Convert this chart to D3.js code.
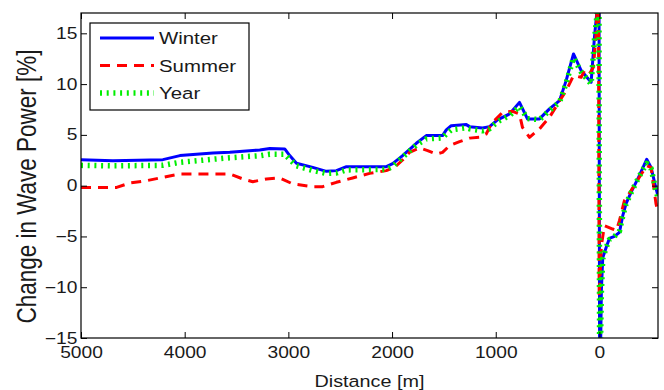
<!DOCTYPE html>
<html>
<head>
<meta charset="utf-8">
<script src="https://cdn.jsdelivr.net/npm/d3@7"></script>
<style>
  html, body { margin: 0; padding: 0; background: #fff; }
  svg { display: block; font-family: "Liberation Sans", Arial, sans-serif; }
</style>
</head>
<body>
<div id="chart"></div>
<script>
// Data: [distance (m), change in wave power (%)]
const winter = [
  [5000, 2.56], [4692, 2.46], [4210, 2.56], [4046, 2.96], [3728, 3.22], [3565, 3.28],
  [3276, 3.52], [3179, 3.65], [3035, 3.62], [2987, 2.96], [2922, 2.2], [2765, 1.8],
  [2633, 1.41], [2537, 1.48], [2440, 1.87], [2055, 1.87], [1994, 2.17], [1898, 2.96],
  [1766, 4.17], [1670, 4.93], [1513, 4.93], [1477, 5.49], [1429, 5.91], [1284, 6.01],
  [1252, 5.81], [1127, 5.68], [1060, 5.81], [983, 6.47], [867, 7.06], [771, 8.2],
  [694, 6.57], [578, 6.57], [482, 7.56], [385, 8.37], [321, 10.34], [250, 12.97],
  [176, 11.33], [80, 10.18], [48, 14.6], [16, 18], [5, 26], [-3, -26], [-10, -17],
  [-19, -10.3], [-32, -7.1], [-65, -6.08], [-96, -5.2], [-145, -5.0], [-193, -4.6],
  [-225, -2.96], [-257, -1.77], [-305, -0.66], [-385, 0.99], [-456, 2.6], [-498, 1.8],
  [-546, -0.3], [-565, -1.0]
];

const summer = [
  [5000, -0.17], [4656, -0.17], [4528, 0.27], [4367, 0.49], [4210, 0.82], [4046, 1.15],
  [3565, 1.15], [3439, 0.66], [3343, 0.39], [3211, 0.66], [3083, 0.76], [2958, 0.17],
  [2765, -0.1], [2669, -0.1], [2537, 0.33], [2380, 0.76], [2216, 1.21], [2055, 1.48],
  [1975, 1.8], [1898, 2.53], [1831, 3.28], [1734, 3.71], [1657, 3.45], [1573, 3.12],
  [1513, 3.28], [1445, 3.94], [1349, 4.33], [1252, 4.68], [1156, 4.76], [1092, 5.09],
  [1043, 6.08], [934, 7.22], [838, 7.32], [771, 7.06], [742, 5.74], [674, 4.76],
  [578, 5.59], [482, 6.73], [402, 8.05], [321, 9.36], [250, 10.84], [176, 10.67],
  [135, 11.5], [87, 11.16], [58, 11.65], [29, 15.3], [10, 24], [2, -11], [-8, -8.4],
  [-19, -5.9], [-48, -3.94], [-128, -4.27], [-164, -4.4], [-193, -3.45], [-241, -1.48],
  [-305, -0.49], [-385, 0.82], [-456, 1.97], [-498, 1.8], [-546, -1.8], [-565, -2.6]
];

const year = [
  [5000, 2.0], [4692, 1.95], [4210, 2.0], [4046, 2.3], [3728, 2.6], [3565, 2.75],
  [3276, 2.95], [3179, 3.1], [3035, 3.1], [2987, 2.6], [2922, 1.95], [2765, 1.5],
  [2633, 1.2], [2537, 1.25], [2440, 1.55], [2055, 1.6], [1994, 1.9], [1898, 2.8],
  [1766, 4.0], [1670, 4.6], [1513, 4.7], [1477, 5.1], [1429, 5.5], [1284, 5.7],
  [1252, 5.6], [1127, 5.4], [1060, 5.6], [983, 6.3], [867, 6.9], [771, 7.8],
  [694, 6.6], [578, 6.5], [482, 7.4], [385, 8.2], [321, 10.1], [250, 12.6],
  [176, 11.2], [80, 10.0], [48, 14.4], [16, 17.5], [5, 25], [-3, -25], [-10, -16],
  [-19, -10.5], [-32, -7.2], [-65, -6.1], [-96, -5.3], [-145, -5.0], [-193, -4.5],
  [-225, -3.0], [-257, -1.8], [-305, -0.7], [-385, 0.95], [-456, 2.2], [-498, 1.7],
  [-546, -0.5], [-565, -1.2]
];

const seriesNames = ['Winter', 'Summer', 'Year'];
const xTicks = [5000, 4000, 3000, 2000, 1000, 0];
const yTicks = [-15, -10, -5, 0, 5, 10, 15];

// layout
const W = 664, H = 390;
const L = 81, R = 658, T = 13, B = 338;
const stretch = 1.2; // the figure is wider than tall, text comes out stretched

const styles = {
  Winter: { color: '#0000ff', width: 3, dash: null },
  Summer: { color: '#ff0000', width: 3, dash: '10,7' },
  Year:   { color: '#00ee00', width: 5.5, dash: '2,4.7' }
};

const svg = d3.select('#chart').append('svg')
  .attr('width', W)
  .attr('height', H);

const x = d3.scaleLinear().domain([5000, -565]).range([L, R]);
const y = d3.scaleLinear().domain([-15, 17]).range([B, T]);

svg.append('defs').append('clipPath').attr('id', 'plotClip')
  .append('rect')
  .attr('x', L).attr('y', T)
  .attr('width', R - L).attr('height', B - T);

const line = d3.line()
  .x(d => x(d[0]))
  .y(d => y(d[1]));

const plot = svg.append('g').attr('clip-path', 'url(#plotClip)');
const seriesData = { Winter: winter, Summer: summer, Year: year };

seriesNames.forEach(name => {
  const s = styles[name];
  plot.append('path')
    .datum(seriesData[name])
    .attr('fill', 'none')
    .attr('stroke', s.color)
    .attr('stroke-width', s.width)
    .attr('stroke-dasharray', s.dash)
    .attr('stroke-linejoin', 'round')
    .attr('d', line);
});

// axes: ticks point inward on all four sides
const tickFont = 16;
const fmt = d3.format('d');
const xAxis = svg.append('g')
  .attr('transform', `translate(0,${B})`)
  .call(d3.axisBottom(x).tickValues(xTicks).tickFormat(fmt).tickSize(-6).tickSizeOuter(0).tickPadding(9));
const yAxis = svg.append('g')
  .attr('transform', `translate(${L},0)`)
  .call(d3.axisLeft(y).tickValues(yTicks).tickFormat(fmt).tickSize(-6).tickSizeOuter(0).tickPadding(3));
svg.append('g')
  .attr('transform', `translate(0,${T})`)
  .call(d3.axisTop(x).tickValues(xTicks).tickSize(-6).tickSizeOuter(0).tickFormat(''));
svg.append('g')
  .attr('transform', `translate(${R},0)`)
  .call(d3.axisRight(y).tickValues(yTicks).tickSize(-6).tickSizeOuter(0).tickFormat(''));

svg.selectAll('.domain').remove();
svg.selectAll('.tick line').attr('stroke', '#000').attr('stroke-width', 1);

[xAxis, yAxis].forEach(ax => {
  ax.selectAll('text')
    .attr('font-family', '"Liberation Sans", Arial, sans-serif')
    .attr('font-size', tickFont)
    .attr('fill', '#1a1a1a')
    .attr('transform', `scale(${stretch},1)`);
});

svg.append('rect')
  .attr('x', L).attr('y', T)
  .attr('width', R - L).attr('height', B - T)
  .attr('fill', 'none')
  .attr('stroke', '#000')
  .attr('stroke-width', 1.2);

// axis titles
svg.append('text')
  .attr('transform', `translate(${(L + R) / 2},387) scale(${stretch},1)`)
  .attr('text-anchor', 'middle')
  .attr('font-size', 16.5)
  .attr('fill', '#1a1a1a')
  .text('Distance [m]');

svg.append('text')
  .attr('transform', `translate(36,${(T + B) / 2 + 11}) rotate(-90) scale(1,${stretch})`)
  .attr('text-anchor', 'middle')
  .attr('font-size', 22.5)
  .attr('fill', '#1a1a1a')
  .text('Change in Wave Power [%]');

// legend
const legend = svg.append('g');
legend.append('rect')
  .attr('x', 90).attr('y', 23)
  .attr('width', 159).attr('height', 87)
  .attr('fill', '#fff')
  .attr('stroke', '#000')
  .attr('stroke-width', 1.2);

seriesNames.forEach((name, i) => {
  const s = styles[name];
  const ly = 38 + i * 27.5;
  legend.append('line')
    .attr('x1', 100).attr('x2', 154)
    .attr('y1', ly).attr('y2', ly)
    .attr('stroke', s.color)
    .attr('stroke-width', s.width)
    .attr('stroke-dasharray', s.dash);
  legend.append('text')
    .attr('transform', `translate(159,${ly + 6}) scale(${stretch},1)`)
    .attr('font-size', 17)
    .attr('fill', '#1a1a1a')
    .text(name);
});
</script>
</body>
</html>
